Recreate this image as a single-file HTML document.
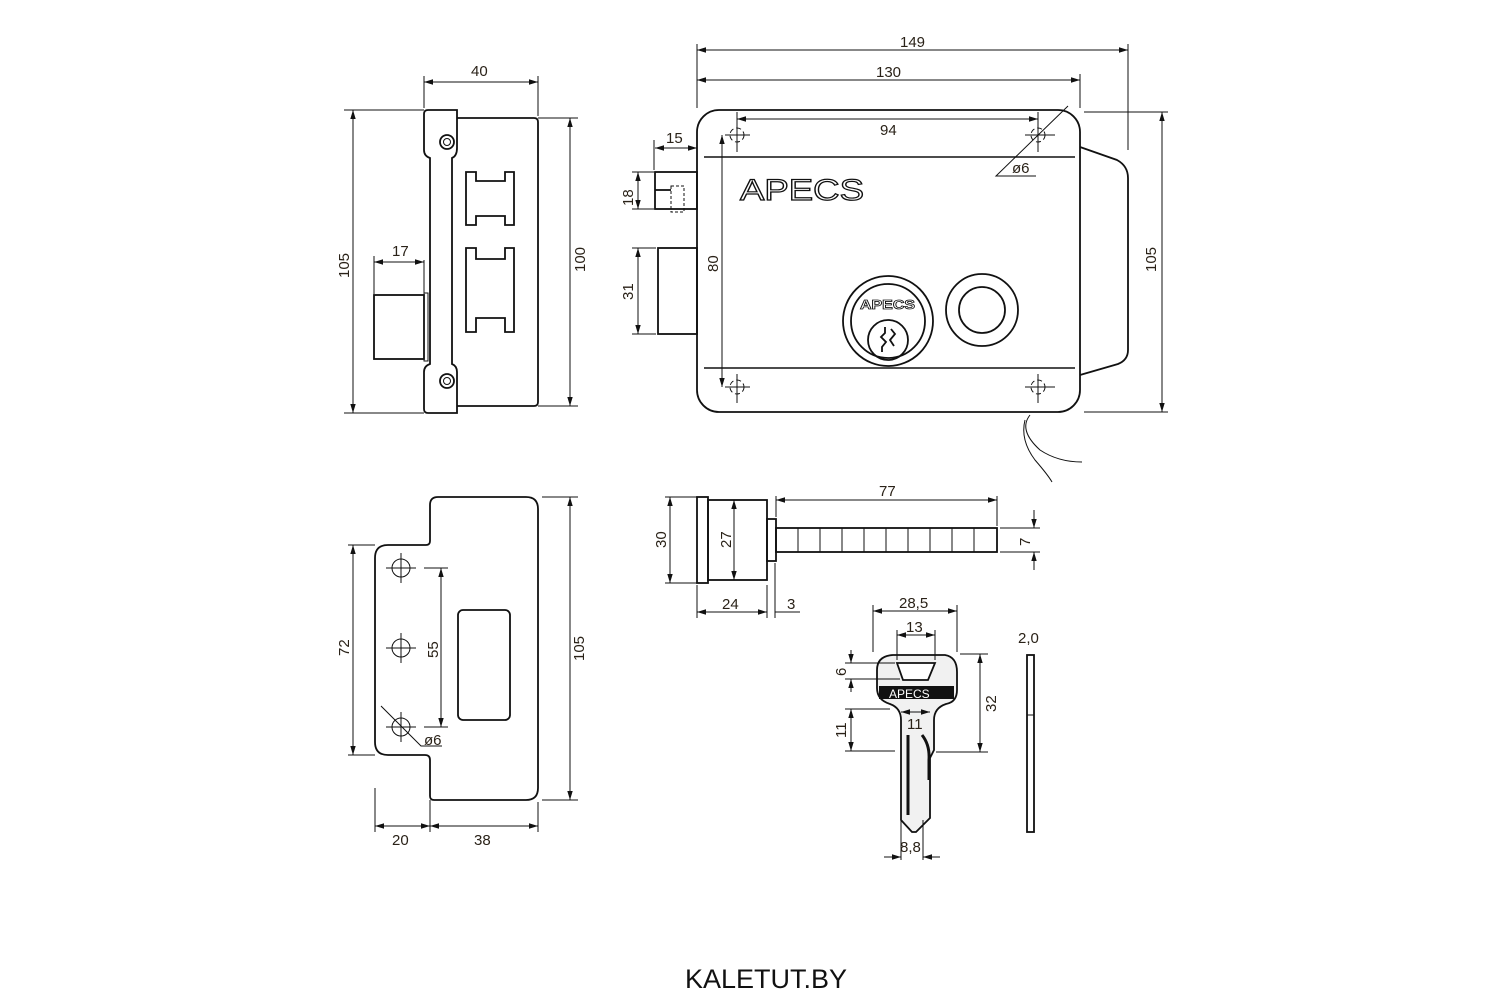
<!DOCTYPE html>
<html><head><meta charset="utf-8"><style>
html,body{margin:0;padding:0;background:#fff;width:1500px;height:1000px;overflow:hidden}
svg{display:block}
text{font-family:"Liberation Sans",sans-serif;font-size:15px;fill:#2a2218}
.o{fill:none;stroke:#111;stroke-width:1.8}
.t{fill:none;stroke:#111;stroke-width:1}
.d{fill:none;stroke:#111;stroke-width:1;marker-start:url(#a);marker-end:url(#a)}
</style></head><body>
<svg width="1500" height="1000" viewBox="0 0 1500 1000">
<defs><marker id="a" viewBox="0 0 10 10" refX="10" refY="5" markerWidth="9" markerHeight="9" orient="auto-start-reverse" markerUnits="userSpaceOnUse"><path d="M0,2 L10,5 L0,8 z" fill="#111"/></marker></defs>

<!-- ===== Top-left side view ===== -->
<path class="o" d="M428,110 H457 V148 Q457,156 452,158 V364 Q457,366 457,372 V413 H428 Q424,413 424,409 V372 Q424,366 430,364 V158 Q424,156 424,150 V114 Q424,110 428,110 Z"/>
<path class="o" d="M457,118 H534 Q538,118 538,122 V402 Q538,406 534,406 H457"/>
<circle class="o" cx="447" cy="142" r="7"/><circle class="t" cx="447" cy="142" r="3.5"/>
<circle class="o" cx="447" cy="381" r="7"/><circle class="t" cx="447" cy="381" r="3.5"/>
<rect class="o" x="374" y="295" width="50" height="64"/>
<rect class="t" x="424" y="293" width="4" height="68"/>
<path class="o" d="M466,172 H476 V181 H505 V172 H514 V225 H505 V216 H476 V225 H466 Z"/>
<path class="o" d="M466,248 H476 V259 H505 V248 H514 V332 H505 V318 H476 V332 H466 Z"/>
<path class="t" d="M424,108 V76 M538,116 V76 M344,110 H424 M538,118 H578 M538,406 H578 M344,413 H424 M374,294 V256 M424,294 V260"/>
<line class="d" x1="424" y1="82" x2="538" y2="82"/><text x="471" y="76">40</text>
<line class="d" x1="353" y1="110" x2="353" y2="413"/><text transform="translate(349,278) rotate(-90)">105</text>
<line class="d" x1="570" y1="118" x2="570" y2="406"/><text transform="translate(585,272) rotate(-90)">100</text>
<line class="d" x1="374" y1="262" x2="424" y2="262"/><text x="392" y="256">17</text>

<!-- ===== Top-right front view ===== -->
<rect class="o" x="697" y="110" width="383" height="302" rx="22"/>
<path class="o" d="M1080,147 L1117,160 Q1128,166 1128,178 V350 Q1128,360 1118,364 L1080,375"/>
<line class="t" x1="704" y1="157" x2="1075" y2="157" style="stroke-width:1.4"/>
<line class="t" x1="704" y1="368" x2="1075" y2="368" style="stroke-width:1.4"/>
<g class="t" stroke-dasharray="5,3">
<circle cx="737" cy="135" r="7"/><circle cx="1038" cy="135" r="7"/><circle cx="737" cy="387" r="7"/><circle cx="1038" cy="387" r="7"/></g>
<path class="t" d="M725,135 H750 M737,122 V152 M1025,135 H1055 M1038,122 V152 M725,387 H750 M737,374 V403 M1025,387 H1055 M1038,374 V403"/>
<text x="740" y="200" textLength="124" lengthAdjust="spacingAndGlyphs" style="font-size:30px;fill:#fff;stroke:#111;stroke-width:1.2">APECS</text>
<circle class="o" cx="888" cy="321" r="45"/><circle class="o" cx="888" cy="321" r="37"/>
<circle class="o" cx="888" cy="340" r="20"/>
<text x="860" y="309" textLength="55" lengthAdjust="spacingAndGlyphs" style="font-size:13px;font-weight:bold;fill:#fff;stroke:#111;stroke-width:0.8">APECS</text>
<path class="o" d="M885,327 V333 L881,337 L886,342 L882,347 V352 M891,329 L895,334 L890,340 L894,346"/>
<circle class="o" cx="982" cy="310" r="36"/><circle class="o" cx="982" cy="310" r="23"/>
<rect class="o" x="655" y="172" width="42" height="37"/>
<rect class="t" x="671" y="186" width="13" height="26" stroke-dasharray="3,2"/>
<path class="o" d="M655,190 H671"/>
<rect class="o" x="658" y="248" width="39" height="86"/>
<path class="t" d="M1030,415 Q1018,430 1040,450 Q1058,462 1082,462"/>
<path class="t" d="M1025,420 Q1020,440 1035,460 Q1048,475 1052,482"/>
<path class="t" d="M697,108 V44 M1128,150 V44 M1080,108 V74 M1084,112 H1168 M1084,412 H1168 M654,170 V140 M632,172 H654 M632,209 H654 M632,248 H656 M632,334 H656 M737,124 V112 M1038,124 V112"/>
<line class="d" x1="697" y1="50" x2="1128" y2="50"/><text x="900" y="47">149</text>
<line class="d" x1="697" y1="80" x2="1080" y2="80"/><text x="876" y="77">130</text>
<line class="d" x1="737" y1="119" x2="1038" y2="119"/><text x="880" y="135">94</text>
<line class="d" x1="655" y1="148" x2="697" y2="148"/><text x="666" y="143">15</text>
<line class="d" x1="638" y1="172" x2="638" y2="209"/><text transform="translate(633,206) rotate(-90)">18</text>
<line class="d" x1="638" y1="248" x2="638" y2="334"/><text transform="translate(633,300) rotate(-90)">31</text>
<line class="d" x1="722" y1="135" x2="722" y2="387"/><text transform="translate(718,272) rotate(-90)">80</text>
<line class="d" x1="1162" y1="112" x2="1162" y2="412"/><text transform="translate(1156,272) rotate(-90)">105</text>
<path class="t" d="M1068,106 L996,176 H1036"/><text x="1012" y="173">ø6</text>

<!-- ===== Bottom-left strike plate ===== -->
<path class="o" d="M388,545 H426 Q430,545 430,541 V505 Q430,497 438,497 H526 Q538,497 538,509 V788 Q538,800 526,800 H434 Q430,800 430,796 V760 Q430,755 425,755 H388 Q375,755 375,742 V558 Q375,545 388,545 Z"/>
<rect class="o" x="458" y="610" width="52" height="110" rx="5"/>
<g class="t"><circle cx="401" cy="568" r="9"/><circle cx="401" cy="648" r="9"/><circle cx="401" cy="727" r="9"/>
<path d="M386,568 H416 M401,553 V583 M386,648 H416 M401,633 V663 M386,727 H416 M401,712 V742"/></g>
<path class="t" d="M348,545 H375 M348,755 H375 M424,568 H448 M424,727 H448 M542,497 H578 M542,800 H578 M375,788 V832 M430,800 V832 M538,802 V832 M381,706 L421,746 H442"/>
<line class="d" x1="353" y1="545" x2="353" y2="755"/><text transform="translate(349,656) rotate(-90)">72</text>
<line class="d" x1="441" y1="568" x2="441" y2="727"/><text transform="translate(438,658) rotate(-90)">55</text>
<line class="d" x1="570" y1="497" x2="570" y2="800"/><text transform="translate(584,661) rotate(-90)">105</text>
<line class="d" x1="375" y1="826" x2="430" y2="826"/><text x="392" y="845">20</text>
<line class="d" x1="430" y1="826" x2="538" y2="826"/><text x="474" y="845">38</text>
<text x="424" y="745">ø6</text>

<!-- ===== Cylinder ===== -->
<rect class="o" x="697" y="497" width="11" height="86"/>
<rect class="o" x="708" y="500" width="59" height="80"/>
<rect class="o" x="767" y="519" width="9" height="42"/>
<rect class="o" x="776" y="528" width="221" height="24"/>
<path class="t" d="M798,528 V552 M820,528 V552 M842,528 V552 M864,528 V552 M886,528 V552 M908,528 V552 M930,528 V552 M952,528 V552 M974,528 V552"/>
<path class="t" d="M665,497 H697 M665,583 H697 M697,585 V618 M767,585 V618 M775,563 V618 M776,517 V496 M997,526 V496 M1000,528 H1040 M1000,552 H1040"/>
<line class="d" x1="670" y1="497" x2="670" y2="583"/><text transform="translate(666,548) rotate(-90)">30</text>
<line class="d" x1="734" y1="500" x2="734" y2="580"/><text transform="translate(731,548) rotate(-90)">27</text>
<line class="d" x1="776" y1="500" x2="997" y2="500"/><text x="879" y="496">77</text>
<line class="d" x1="697" y1="612" x2="767" y2="612"/><text x="722" y="609">24</text>
<path class="t" d="M775,612 H800"/><text x="787" y="609">3</text>
<path class="d" d="M1034,510 V528" style="marker-start:none"/><path class="d" d="M1034,570 V552" style="marker-start:none"/>
<text transform="translate(1030,546) rotate(-90)">7</text>

<!-- ===== Key ===== -->
<path class="o" d="M893,655 H945 Q957,657 957,672 V690 Q957,702 946,704 Q934,708 934,720 V750 L930,758 V818 L916,832 H912 L901,820 V720 Q901,708 890,704 Q877,700 877,688 V670 Q877,656 893,655 Z" style="fill:#f1f1f1"/>
<path class="o" d="M897,663 H935 L928,680 H903 Z" style="fill:#fff"/>
<rect x="879" y="686" width="75" height="13" fill="#111"/>
<text x="889" y="698" style="font-size:12px;fill:#fff">APECS</text>
<path class="o" d="M908,735 V815 M922,735 Q930,745 929,760 V780" style="stroke-width:3"/>
<path class="t" d="M873,652 V605 M957,652 V605 M897,660 V630 M935,660 V630 M845,663 H895 M845,679 H900 M845,709 H890 M845,751 H895 M960,654 H988 M936,752 H988 M901,820 V860 M923,820 V860"/>
<line class="d" x1="873" y1="611" x2="957" y2="611"/><text x="899" y="608">28,5</text>
<line class="d" x1="897" y1="635" x2="935" y2="635"/><text x="906" y="632">13</text>
<path class="d" d="M851,650 V663" style="marker-start:none"/><path class="d" d="M851,692 V679" style="marker-start:none"/>
<text transform="translate(846,676) rotate(-90)">6</text>
<line class="d" x1="851" y1="709" x2="851" y2="751"/><text transform="translate(846,738) rotate(-90)">11</text>
<line class="d" x1="980" y1="654" x2="980" y2="752"/><text transform="translate(996,712) rotate(-90)">32</text>
<line class="d" x1="901" y1="712" x2="930" y2="712"/><text x="907" y="729">11</text>
<path class="d" d="M884,857 H901" style="marker-start:none"/><path class="d" d="M940,857 H923" style="marker-start:none"/><text x="900" y="852">8,8</text>
<rect class="o" x="1027" y="655" width="7" height="177"/><line class="t" x1="1027" y1="715" x2="1034" y2="715"/>
<text x="1018" y="643">2,0</text>

<text x="766" y="988" text-anchor="middle" style="font-size:27px;fill:#111">KALETUT.BY</text>
</svg>
</body></html>
